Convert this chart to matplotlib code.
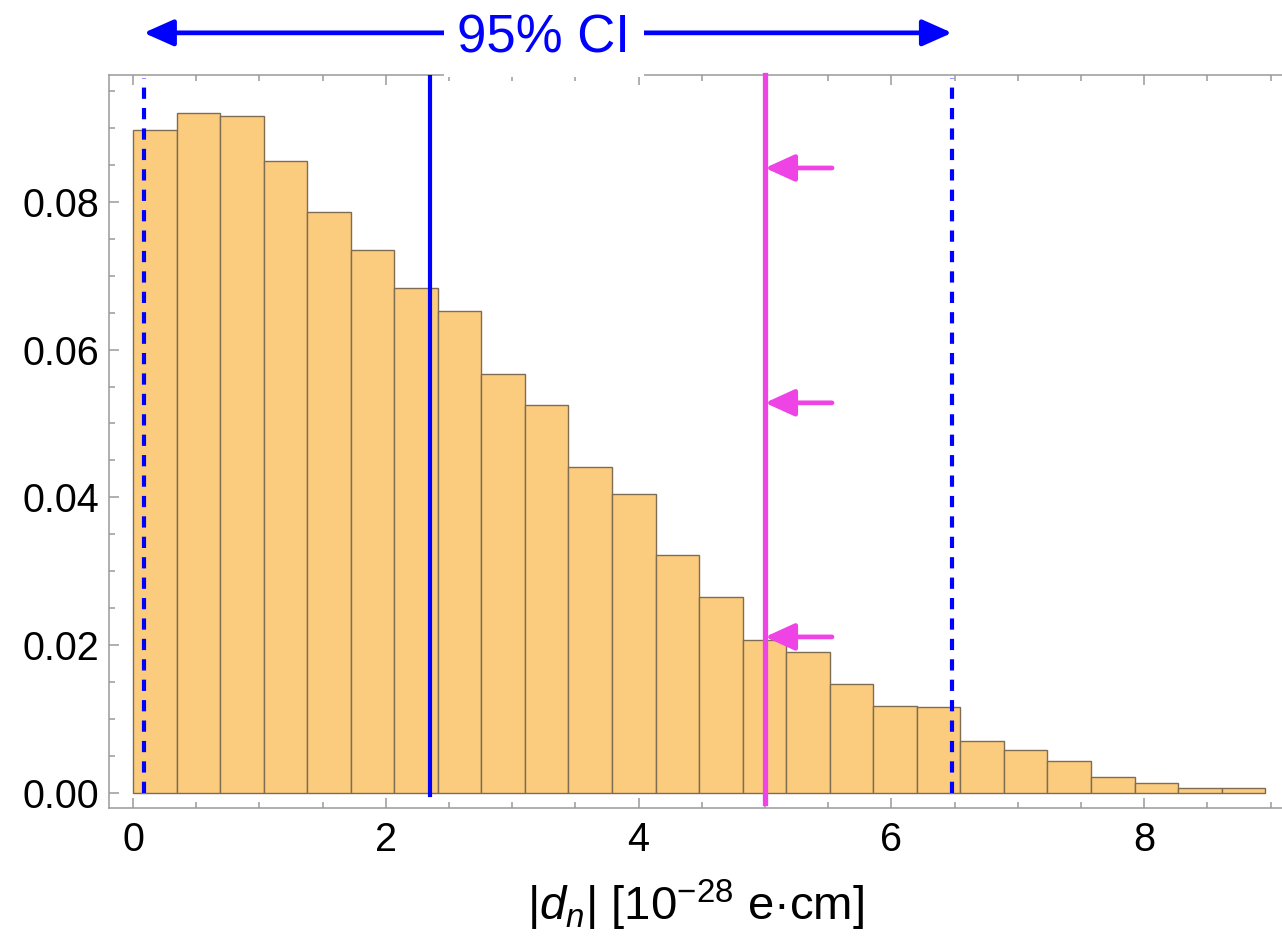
import matplotlib
matplotlib.use("Agg")
import matplotlib.pyplot as plt
from matplotlib.ticker import MultipleLocator, FormatStrFormatter
import numpy as np

plt.rcParams['font.family'] = ['Liberation Sans', 'DejaVu Sans']
plt.rcParams['mathtext.fontset'] = 'custom'
plt.rcParams['mathtext.rm'] = 'Liberation Sans'
plt.rcParams['mathtext.it'] = 'Liberation Sans:italic'

# histogram of |d_n| (normalised counts), bins start at 0
bin_start = 0.0
bin_width = 0.3445
heights = [0.0898, 0.0921, 0.0917, 0.0855, 0.0786, 0.0735, 0.0683, 0.0652,
           0.0567, 0.0525, 0.0441, 0.0404, 0.0322, 0.0265, 0.0207, 0.0190,
           0.0147, 0.0117, 0.0116, 0.0070, 0.0058, 0.0043, 0.0021, 0.00135,
           0.0007, 0.0006]

ci_low = 0.085
ci_high = 6.48
median_val = 2.35
bound_val = 5.0
arrow_levels = [0.0846, 0.0528, 0.0211]
arrow_tail = 5.53

bar_color = '#FCCC7E'
edge_color = '#7E6D52'
blue = '#0000FF'
magenta = '#EE44E6'
frame_gray = '#9A9A9A'

fig = plt.figure(figsize=(12.82, 9.40), dpi=100)
ax = fig.add_axes([0.0850, 0.1404, 0.9150, 0.7798])

lefts = bin_start + bin_width * np.arange(len(heights))
ax.bar(lefts, heights, width=bin_width, align='edge', color=bar_color,
       edgecolor=edge_color, linewidth=1.0, zorder=2)

ax.set_xlim(-0.19, 9.09)
ax.set_ylim(-0.00207, 0.09719)

# CI bounds, median and the limit line
dash = (0, (2.7, 2.2))
ax.plot([ci_low, ci_low], [-0.0001, 0.0968], color=blue, lw=3.0, ls=dash, zorder=4)
ax.plot([ci_high, ci_high], [-0.0001, 0.0968], color=blue, lw=3.0, ls=dash, zorder=4)
ax.plot([median_val, median_val], [-0.0003, 0.0972], color=blue, lw=3.0, zorder=4)
ax.plot([bound_val, bound_val], [-0.0014, 0.0972], color=magenta, lw=3.8,
        zorder=4, clip_on=False)

for yv in arrow_levels:
    ax.annotate('', xy=(bound_val, yv), xytext=(arrow_tail, yv),
                arrowprops=dict(arrowstyle='-|>,head_length=1.8,head_width=0.82',
                                mutation_scale=10, color=magenta, lw=3.4,
                                shrinkA=0, shrinkB=0), zorder=5)

# 95% CI span above the frame
ax.annotate('', xy=(ci_low, 0.1029), xytext=(ci_high, 0.1029),
            arrowprops=dict(arrowstyle='<|-|>,head_length=1.8,head_width=0.8',
                            mutation_scale=10, color=blue, lw=3.4,
                            shrinkA=0, shrinkB=0),
            annotation_clip=False, zorder=5)
ax.text(3.25, 0.1003, '95% CI', color=blue, fontsize=38, ha='center',
        va='baseline', zorder=10,
        bbox=dict(boxstyle='square,pad=0.26', fc='white', ec='none'))

# Mathematica-like frame
for side in ['left', 'bottom', 'top']:
    ax.spines[side].set_color(frame_gray)
    ax.spines[side].set_linewidth(1.1)
ax.spines['right'].set_visible(False)

ax.xaxis.set_major_locator(MultipleLocator(2))
ax.xaxis.set_minor_locator(MultipleLocator(0.5))
ax.yaxis.set_major_locator(MultipleLocator(0.02))
ax.yaxis.set_minor_locator(MultipleLocator(0.005))
ax.xaxis.set_major_formatter(FormatStrFormatter('%d'))
ax.yaxis.set_major_formatter(FormatStrFormatter('%.2f'))

ax.tick_params(which='both', direction='in', top=True, right=False,
               color=frame_gray, width=1.1, labelsize=28.5)
ax.tick_params(which='major', length=7.5)
ax.tick_params(which='minor', length=4.5)
ax.tick_params(axis='x', which='major', pad=9)
ax.tick_params(axis='y', which='major', pad=7)

ax.set_xlabel('|$d_n$| [10$^{-28}$ e·cm]', fontsize=34, labelpad=14)

fig.savefig('out.png', dpi=100)
